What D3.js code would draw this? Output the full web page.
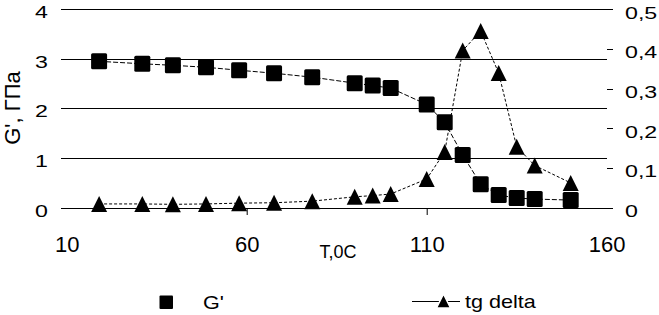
<!DOCTYPE html>
<html>
<head>
<meta charset="utf-8">
<script src="https://cdn.jsdelivr.net/npm/d3@7"></script>
<style>
    body { margin: 0; background: #fff; }
    #chart-area { width: 659px; height: 315px; }
    text { font-family: "Liberation Sans", Arial, sans-serif; fill: #000; }
</style>
</head>
<body>
<div id="chart-area"></div>
<script>
// values
const temperature = [19, 31, 39.5, 48.7, 57.9, 67.6, 78.2, 90, 95, 100, 110, 115, 120, 125, 130, 135, 140, 150];
const gModulus = [2.95, 2.90, 2.87, 2.83, 2.77, 2.71, 2.63, 2.51, 2.46, 2.41, 2.08, 1.72, 1.06, 0.47, 0.25, 0.19, 0.17, 0.15];
const tgDelta = [0.009, 0.009, 0.008, 0.009, 0.011, 0.012, 0.016, 0.027, 0.030, 0.034, 0.072, 0.140, 0.396, 0.445, 0.339, 0.153, 0.106, 0.062];

const xTicks = [10, 60, 110, 160];
const yLeftTicks = [0, 1, 2, 3, 4];
const yRightTicks = [0, 0.1, 0.2, 0.3, 0.4, 0.5];

const legendLabels = ["G'", "tg delta"];

class DualAxisVis {
    constructor(parentElement) {
        this.parentElement = parentElement;
        this.data = temperature.map((t, i) => ({ t: t, g: gModulus[i], tg: tgDelta[i] }));
        this.initVis();
    }

    initVis() {
        const vis = this;

        vis.width = 659;
        vis.height = 315;

        vis.svg = d3.select("#" + vis.parentElement)
            .append("svg")
            .attr("width", vis.width)
            .attr("height", vis.height);

        vis.plotLeft = 61;
        vis.plotRight = 607;

        vis.x = d3.scaleLinear().domain([10, 160]).range([66.7, 606.7]);
        vis.yLeft = d3.scaleLinear().domain([0, 4]).range([207.5, 9.3]);
        vis.yRight = d3.scaleLinear().domain([0, 0.5]).range([207.5, 9.3]);

        // triangle marker, box centred on the point
        vis.triangle = s => `M0,${-s / 2}L${s / 2},${s / 2}L${-s / 2},${s / 2}Z`;

        vis.updateVis();
    }

    updateVis() {
        const vis = this;
        const snap = v => Math.round(v) + 0.5;

        // gridlines
        vis.svg.append("g")
            .selectAll("line")
            .data(yLeftTicks)
            .join("line")
            .attr("x1", vis.plotLeft)
            .attr("x2", vis.plotRight)
            .attr("y1", d => snap(vis.yLeft(d)))
            .attr("y2", d => snap(vis.yLeft(d)))
            .attr("stroke", "#000")
            .attr("shape-rendering", "crispEdges");

        // left labels (drawn wide, as in the picture)
        vis.svg.append("g")
            .selectAll("text")
            .data(yLeftTicks)
            .join("text")
            .attr("transform", d => `translate(48, ${vis.yLeft(d) + 9}) scale(1.45, 1)`)
            .attr("text-anchor", "end")
            .style("font-size", "16px")
            .text(d => d);

        // right axis ticks and labels
        vis.svg.append("g")
            .selectAll("line")
            .data(yRightTicks)
            .join("line")
            .attr("x1", vis.plotRight)
            .attr("x2", vis.plotRight + 6)
            .attr("y1", d => snap(vis.yRight(d)))
            .attr("y2", d => snap(vis.yRight(d)))
            .attr("stroke", "#000")
            .attr("shape-rendering", "crispEdges");

        vis.svg.append("g")
            .selectAll("text")
            .data(yRightTicks)
            .join("text")
            .attr("transform", d => `translate(625, ${vis.yRight(d) + 9.5}) scale(1.45, 1)`)
            .style("font-size", "16px")
            .text(d => d3.format(".1~f")(d).replace(".", ","));

        // x axis: ticks only, no line
        vis.xAxisGroup = vis.svg.append("g")
            .attr("transform", `translate(0, ${snap(vis.yLeft(0)) - 0.5})`)
            .call(d3.axisBottom(vis.x).tickValues(xTicks).tickSize(7).tickPadding(21.5));
        vis.xAxisGroup.select(".domain").remove();
        vis.xAxisGroup.selectAll(".tick line")
            .attr("stroke", "#000")
            .attr("opacity", d => (d === 60 || d === 110) ? 1 : 0);
        vis.xAxisGroup.selectAll(".tick text")
            .style("font-family", "'Liberation Sans', Arial, sans-serif")
            .style("font-size", "22px")
            .attr("fill", "#000");

        // axis titles
        vis.svg.append("text")
            .attr("transform", "translate(20, 108) rotate(-90)")
            .attr("text-anchor", "middle")
            .style("font-size", "22px")
            .text("G', ГПа");

        vis.svg.append("text")
            .attr("x", 338)
            .attr("y", 258)
            .attr("text-anchor", "middle")
            .style("font-size", "18px")
            .text("T,0C");

        // lines
        const lineG = d3.line().x(d => vis.x(d.t)).y(d => vis.yLeft(d.g));
        const lineTg = d3.line().x(d => vis.x(d.t)).y(d => vis.yRight(d.tg));

        vis.svg.append("path")
            .datum(vis.data)
            .attr("d", lineG)
            .attr("fill", "none")
            .attr("stroke", "#000")
            .attr("stroke-width", 1)
            .attr("stroke-dasharray", "5,2");

        vis.svg.append("path")
            .datum(vis.data)
            .attr("d", lineTg)
            .attr("fill", "none")
            .attr("stroke", "#000")
            .attr("stroke-width", 1)
            .attr("stroke-dasharray", "3,2");

        // markers
        vis.svg.append("g")
            .selectAll("rect")
            .data(vis.data)
            .join("rect")
            .attr("x", d => vis.x(d.t) - 8)
            .attr("y", d => vis.yLeft(d.g) - 8)
            .attr("width", 16)
            .attr("height", 16)
            .attr("rx", 1.5)
            .attr("fill", "#000");

        vis.svg.append("g")
            .selectAll("path")
            .data(vis.data)
            .join("path")
            .attr("transform", d => `translate(${vis.x(d.t)}, ${vis.yRight(d.tg)})`)
            .attr("d", vis.triangle(16))
            .attr("fill", "#000");

        // legend
        const legend = vis.svg.append("g").attr("class", "legend");

        legend.append("rect")
            .attr("x", 159.5)
            .attr("y", 295.5)
            .attr("width", 13.5)
            .attr("height", 13.5)
            .attr("rx", 1)
            .attr("fill", "#000");

        legend.append("text")
            .attr("transform", "translate(203, 309) scale(1.2, 1)")
            .style("font-size", "18px")
            .text(legendLabels[0]);

        legend.append("line")
            .attr("x1", 412)
            .attr("x2", 460)
            .attr("y1", 301.5)
            .attr("y2", 301.5)
            .attr("stroke", "#000");

        legend.append("path")
            .attr("transform", "translate(443.5, 301)")
            .attr("d", vis.triangle(14))
            .attr("fill", "#000")
            .attr("stroke", "#fff")
            .attr("stroke-width", 1.5);

        legend.append("text")
            .attr("transform", "translate(465, 308) scale(1.2, 1)")
            .style("font-size", "18px")
            .text(legendLabels[1]);
    }
}

const myChart = new DualAxisVis("chart-area");
</script>
</body>
</html>
